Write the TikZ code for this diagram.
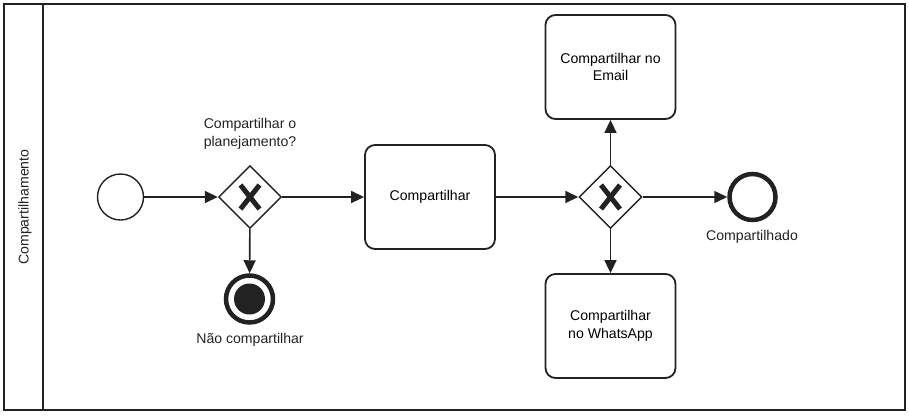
\documentclass[tikz,border=0pt]{standalone}
\usepackage{fontspec}
\setmainfont{Liberation Sans}
\usetikzlibrary{arrows.meta,positioning,shapes.geometric,calc}
\definecolor{myline}{HTML}{222222}
\tikzset{
  mytask/.style = {rectangle, rounded corners=10pt, draw=myline, line width=1.8pt, fill=white, minimum width=130pt, minimum height=104pt, align=center, inner sep=0pt, font=\fontsize{14.1}{17.5}\selectfont},
  mygate/.style = {diamond, draw=myline, line width=1.4pt, fill=white, minimum width=63pt, minimum height=63pt, inner sep=0pt},
  mystart/.style = {circle, draw=myline, line width=1.4pt, minimum size=46pt, inner sep=0pt},
  myend/.style = {circle, draw=myline, line width=4.5pt, minimum size=46pt, inner sep=0pt},
  mylabel/.style = {align=center, inner sep=0pt, text=myline, font=\fontsize{14.1}{17.5}\selectfont},
  mycross/.style = {draw=myline, line width=5pt},
  myarrow/.style = {-{Triangle[length=13pt,width=12pt]}, draw=myline, line width=1.6pt},
}

\begin{document}
\begin{tikzpicture}[x=1pt,y=-1pt]
\useasboundingbox (0,0) rectangle (909,416);
% pool and lane
\draw[draw=myline, line width=1.8pt] (4,4) rectangle (905,410);
\draw[draw=myline, line width=1.8pt] (43,4) -- (43,410);
\node[mylabel, rotate=90] (lane) at (25,207) {Compartilhamento};
% events, gateways and tasks
\node[mystart] (inicio) at (120.5,197) {};
\node[mygate] (gw1) at (250,197) {};
\node[myend, minimum size=47pt] (naocomp) at (249.5,299) {};
\fill[myline] (naocomp) circle (15.5pt);
\node[mytask] (comp) at (430,197) {Compartilhar};
\node[mygate] (gw2) at (610.5,197) {};
\node[mytask] (email) at (610.5,67) {Compartilhar no\\Email};
\node[mytask] (whats) at (610.5,326) {Compartilhar\\no WhatsApp};
\node[myend] (fim) at (752.5,197) {};
\foreach \g in {gw1,gw2} {
  \draw[mycross] ($(\g)+(-9.5,-12)$) -- ($(\g)+(9.5,12)$);
  \draw[mycross] ($(\g)+(9.5,-12)$) -- ($(\g)+(-9.5,12)$);
}
% labels
\node[mylabel] (lgw1) at (250,134) {Compartilhar o\\planejamento?};
\node[mylabel] (lnao) at (250,340) {Não compartilhar};
\node[mylabel] (lfim) at (752,237) {Compartilhado};
% flows
\draw[myarrow] (inicio) -- (gw1);
\draw[myarrow] (gw1) -- (comp);
\draw[myarrow] (gw1) -- (naocomp);
\draw[myarrow] (comp) -- (gw2);
\draw[myarrow] (gw2) -- (email);
\draw[myarrow] (gw2) -- (whats);
\draw[myarrow] (gw2) -- (fim);
\end{tikzpicture}
\end{document}
